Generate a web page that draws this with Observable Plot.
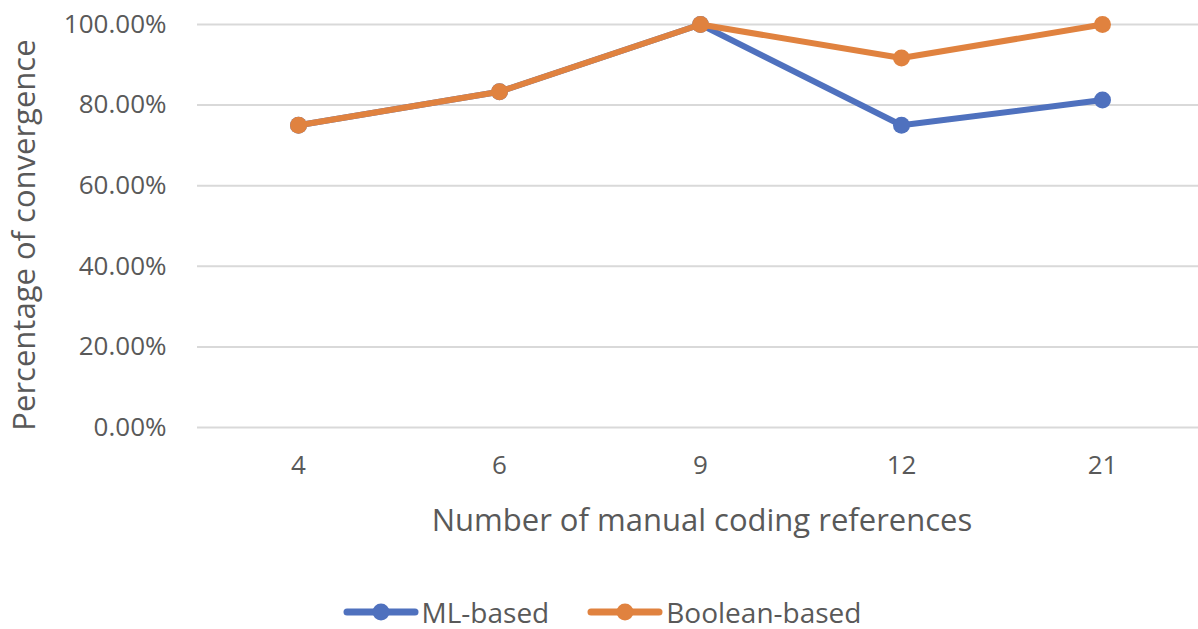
<!DOCTYPE html>
<html>
<head>
<meta charset="utf-8">
<script src="https://cdn.jsdelivr.net/npm/d3@7"></script>
<script src="https://cdn.jsdelivr.net/npm/@observablehq/plot@0.6"></script>
<style>
  html, body { margin: 0; padding: 0; background: #fff; }
  body { width: 1198px; height: 629px; overflow: hidden; font-family: "Open Sans", sans-serif; }
  #chart svg { display: block; }
  #legend { display: flex; justify-content: center; align-items: center; height: 40px; margin-top: 44px; margin-left: 6px; }
  .item { display: flex; align-items: center; font-size: 28px; line-height: 40px; color: #595959; padding-top: 6px; }
  .item svg { margin-right: 3px; }
</style>
</head>
<body>
<div id="chart"></div>
<div id="legend"></div>
<script>
// Convergence of coding approaches by number of manual references
const references = ["4", "6", "9", "12", "21"];
const mlBased = [75, 83.33, 100, 75, 81.25];
const booleanBased = [75, 83.33, 100, 91.67, 100];
const seriesNames = ["ML-based", "Boolean-based"];
const seriesColors = ["#4F71BE", "#E0823F"];
const yTicks = [0, 20, 40, 60, 80, 100];
const xTitle = "Number of manual coding references";
const yTitle = "Percentage of convergence";

const rows = [];
references.forEach((r, i) => rows.push({ref: r, value: mlBased[i], series: seriesNames[0]}));
references.forEach((r, i) => rows.push({ref: r, value: booleanBased[i], series: seriesNames[1]}));
const mlRows = rows.filter(d => d.series === seriesNames[0]);
const boolRows = rows.filter(d => d.series === seriesNames[1]);

const chart = Plot.plot({
  width: 1198,
  height: 545,
  marginLeft: 197,
  marginRight: 0,
  marginTop: 24,
  marginBottom: 118,
  style: {fontFamily: "Open Sans, sans-serif", color: "#595959", background: "#fff"},
  x: {type: "point", domain: references, range: [297, 1103], padding: 0},
  y: {domain: [0, 100]},
  color: {domain: seriesNames, range: seriesColors},
  marks: [
    Plot.gridY(yTicks, {stroke: "#D9D9D9", strokeOpacity: 1, strokeWidth: 2}),
    Plot.axisY(yTicks, {
      tickSize: 0, tickPadding: 31, fontSize: 26,
      tickFormat: d => d.toFixed(2) + "%", label: null
    }),
    Plot.axisX({tickSize: 0, tickPadding: 28, fontSize: 26, label: null}),
    Plot.text([yTitle], {frameAnchor: "left", textAnchor: "middle", lineAnchor: "middle", rotate: -90, dx: -172, dy: 9, fontSize: 31, fill: "#595959"}),
    Plot.text([xTitle], {frameAnchor: "bottom", textAnchor: "middle", lineAnchor: "middle", dx: 4, dy: 94, fontSize: 31, fill: "#595959"}),
    Plot.line(mlRows, {x: "ref", y: "value", stroke: "series", strokeWidth: 6, strokeLinejoin: "round", strokeLinecap: "round"}),
    Plot.dot(mlRows, {x: "ref", y: "value", fill: "series", r: 8.5}),
    Plot.line(boolRows, {x: "ref", y: "value", stroke: "series", strokeWidth: 6, strokeLinejoin: "round", strokeLinecap: "round"}),
    Plot.dot(boolRows, {x: "ref", y: "value", fill: "series", r: 8.5})
  ]
});
document.getElementById("chart").append(chart);

// Legend with line-and-marker swatches
const legend = document.getElementById("legend");
seriesNames.forEach((name, i) => {
  const item = document.createElement("div");
  item.className = "item";
  item.style.marginRight = i === 0 ? "38px" : "0";
  item.innerHTML = `<svg width="76" height="22"><line x1="4" y1="11" x2="72" y2="11" stroke="${seriesColors[i]}" stroke-width="7" stroke-linecap="round"/><circle cx="38" cy="11" r="8.5" fill="${seriesColors[i]}"/></svg><span>${name}</span>`;
  legend.append(item);
});
</script>
</body>
</html>
